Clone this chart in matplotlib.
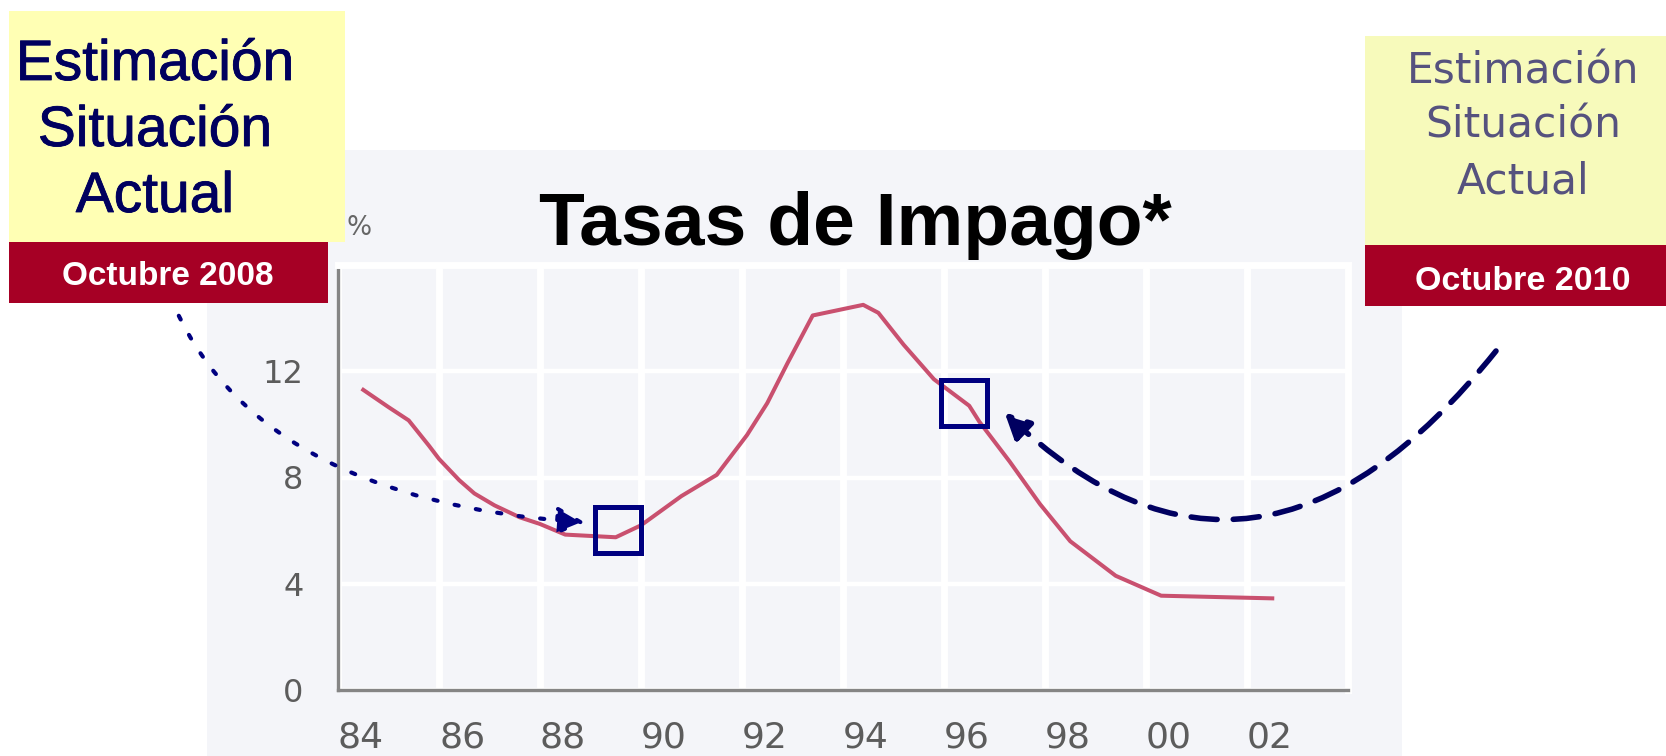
import matplotlib
matplotlib.use("Agg")
import matplotlib.pyplot as plt
import matplotlib.patheffects as pe
from matplotlib.patches import Rectangle

# ---------------- data ----------------
years = [1984.5, 1985.0, 1985.4, 1985.8, 1986.0, 1986.4, 1986.7, 1987.1, 1987.6, 1988.0,
         1988.5, 1989.5, 1990.0, 1990.8, 1991.5, 1992.1, 1992.5, 1992.9, 1993.4, 1993.9,
         1994.4, 1994.7, 1995.2, 1995.8, 1996.5, 1996.7, 1997.3, 1997.9, 1998.5, 1999.4,
         2000.3, 2002.5]
rates = [11.3, 10.65, 10.15, 9.2, 8.7, 7.9, 7.4, 6.95, 6.5, 6.25,
         5.85, 5.75, 6.2, 7.3, 8.1, 9.6, 10.8, 12.3, 14.1, 14.3,
         14.5, 14.2, 13.0, 11.7, 10.7, 10.1, 8.6, 7.0, 5.6, 4.3,
         3.55, 3.45]

xtick_years = [1984, 1986, 1988, 1990, 1992, 1994, 1996, 1998, 2000, 2002]
xtick_labels = ['84', '86', '88', '90', '92', '94', '96', '98', '00', '02']
ytick_vals = [0, 4, 8, 12]

# highlighted points (blue squares) and where the arrows point
mark_years = [1989.54, 1996.39]
mark_rates = [6.04, 10.8]
arrow_years = [1988.9, 1997.2]
arrow_rates = [6.3, 10.45]

title = 'Tasas de Impago*'
box_lines = ['Estimación', 'Situación', 'Actual']
left_date = 'Octubre 2008'
right_date = 'Octubre 2010'

# ---------------- figure ----------------
W, H = 1666, 756
fig = plt.figure(figsize=(W / 100, H / 100), dpi=100)

def fx(x):  # pixel (from left) -> figure fraction
    return x / W

def fy(y):  # pixel (from top) -> figure fraction
    return 1 - y / H

NAVY = '#000080'
DARKRED = '#A60025'

# light grey panel behind the chart
fig.add_artist(Rectangle((fx(207), 0), fx(1402) - fx(207), fy(150), transform=fig.transFigure,
                         facecolor='#F4F5F9', edgecolor='none', zorder=-1))

ax = fig.add_axes([fx(338), fy(690), fx(1348) - fx(338), fy(265) - fy(690)])
ax.set_facecolor('none')
ax.set_xlim(1984, 2004)
ax.set_ylim(0, 16)

ax.set_xticks(xtick_years)
ax.set_xticklabels(xtick_labels, ha='left')
ax.set_yticks(ytick_vals)
ax.tick_params(length=0)
ax.tick_params(axis='x', pad=22, labelsize=26, labelcolor='#5c5c5c')
ax.tick_params(axis='y', pad=25, labelsize=23, labelcolor='#5c5c5c')

ax.set_axisbelow(True)
ax.grid(axis='x', color='white', lw=5)
ax.grid(axis='y', color='white', lw=3.2)
for s in ['left', 'bottom']:
    ax.spines[s].set_color('#858585')
    ax.spines[s].set_linewidth(2.4)
for s in ['top', 'right']:
    ax.spines[s].set_color('white')
    ax.spines[s].set_linewidth(5)

ax.plot(years, rates, color='#C9506F', lw=2.9, zorder=3)
ax.plot(mark_years, mark_rates, ls='none', marker='s', ms=33.5, mfc='none',
        mec=NAVY, mew=3.6, zorder=4)

# dotted arrow from the 2008 box
ax.annotate('', xy=(arrow_years[0], arrow_rates[0]), xycoords='data',
            xytext=(170, H - 296), textcoords='figure pixels',
            arrowprops=dict(arrowstyle='-|>,head_length=0.85,head_width=0.42',
                            mutation_scale=20, color=NAVY, lw=3,
                            linestyle=(0, (1, 4.2)), shrinkA=0, shrinkB=0,
                            connectionstyle='angle3,angleA=-68,angleB=176'),
            annotation_clip=False)

# dashed arrow from the 2010 box
ax.annotate('', xy=(arrow_years[1], arrow_rates[1]), xycoords='data',
            xytext=(1496, H - 351), textcoords='figure pixels',
            arrowprops=dict(arrowstyle='-|>,head_length=0.75,head_width=0.38',
                            mutation_scale=20, color='#000060', lw=4,
                            linestyle=(0, (4.7, 2.9)), shrinkA=0, shrinkB=0,
                            connectionstyle='angle3,angleA=-128.7,angleB=-43.6'),
            annotation_clip=False)

fig.text(fx(855), fy(245), title, ha='center', va='baseline', fontsize=54,
         fontweight='bold', family='Liberation Sans', color='black')
fig.text(fx(346), fy(235), '%', ha='left', va='baseline', fontsize=19, color='#666666')

# ---------------- left note ----------------
fig.add_artist(Rectangle((fx(9), fy(242)), fx(345) - fx(9), fy(11) - fy(242),
                         transform=fig.transFigure, facecolor='#FFFFB4', edgecolor='none'))
fig.add_artist(Rectangle((fx(9), fy(303)), fx(328) - fx(9), fy(242) - fy(303),
                         transform=fig.transFigure, facecolor=DARKRED, edgecolor='none'))
for line, base in zip(box_lines, [80, 146, 212]):
    t = fig.text(fx(155), fy(base), line, ha='center', va='baseline', fontsize=41,
                 family='Liberation Sans', color='#00005E')
    t.set_path_effects([pe.withStroke(linewidth=0.6, foreground='#00005E')])
fig.text(fx(168), fy(285), left_date, ha='center', va='baseline', fontsize=24,
         fontweight='bold', family='Liberation Sans', color='white')

# ---------------- right note ----------------
fig.add_artist(Rectangle((fx(1365), fy(245)), fx(1666) - fx(1365), fy(36) - fy(245),
                         transform=fig.transFigure, facecolor='#F7FABB', edgecolor='none'))
fig.add_artist(Rectangle((fx(1365), fy(306)), fx(1666) - fx(1365), fy(245) - fy(306),
                         transform=fig.transFigure, facecolor=DARKRED, edgecolor='none'))
for line, base in zip(box_lines, [84, 138, 193]):
    fig.text(fx(1523), fy(base), line, ha='center', va='baseline', fontsize=30.5,
             family='DejaVu Sans', color='#56527E')
fig.text(fx(1523), fy(290), right_date, ha='center', va='baseline', fontsize=24.5,
         fontweight='bold', family='Liberation Sans', color='white')

fig.savefig('out.png', dpi=100)
